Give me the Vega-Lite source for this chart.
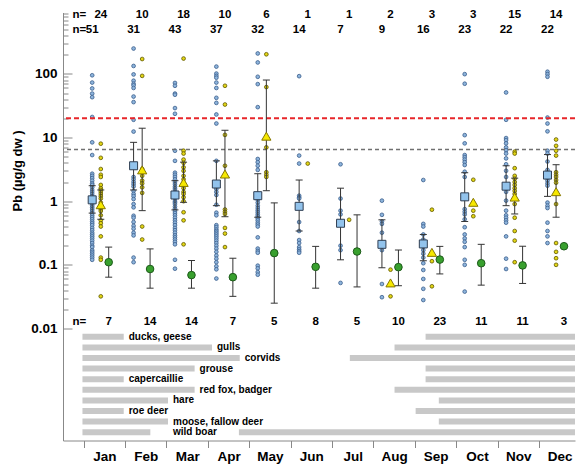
{
  "$schema": "https://vega.github.io/schema/vega-lite/v6.json",
  "padding": {"left": 11, "top": 5.5, "right": 0, "bottom": 0},
  "spacing": 0,
  "bounds": "flush",
  "config": {"view": {"stroke": null}, "font": "Liberation Sans", "axis": {"grid": false}},
  "datasets": {
    "blue": [
      {"month":1,"pb":95},{"month":1,"pb":73},{"month":1,"pb":59},{"month":1,"pb":49},{"month":1,"pb":43},{"month":1,"pb":21},{"month":1,"pb":8.4},{"month":1,"pb":5.3},{"month":1,"pb":2.7},{"month":1,"pb":2.5},{"month":1,"pb":2.3},{"month":1,"pb":2.1},{"month":1,"pb":1.9},{"month":1,"pb":1.8},{"month":1,"pb":1.65},{"month":1,"pb":1.5},{"month":1,"pb":1.4},{"month":1,"pb":1.3},{"month":1,"pb":1.2},{"month":1,"pb":1.1},{"month":1,"pb":1.05},{"month":1,"pb":1.0},{"month":1,"pb":0.95},{"month":1,"pb":0.9},{"month":1,"pb":0.85},{"month":1,"pb":0.8},{"month":1,"pb":0.75},{"month":1,"pb":0.7},{"month":1,"pb":0.65},{"month":1,"pb":0.6},{"month":1,"pb":0.56},{"month":1,"pb":0.52},{"month":1,"pb":0.48},{"month":1,"pb":0.45},{"month":1,"pb":0.42},{"month":1,"pb":0.38},{"month":1,"pb":0.35},{"month":1,"pb":0.32},{"month":1,"pb":0.3},{"month":1,"pb":0.28},{"month":1,"pb":0.26},{"month":1,"pb":0.24},{"month":1,"pb":0.22},{"month":1,"pb":0.2},{"month":1,"pb":0.19},{"month":1,"pb":0.17},{"month":1,"pb":0.16},{"month":1,"pb":0.15},{"month":1,"pb":0.14},{"month":1,"pb":0.13},{"month":1,"pb":0.12},
      {"month":2,"pb":250},{"month":2,"pb":133},{"month":2,"pb":98},{"month":2,"pb":78},{"month":2,"pb":70},{"month":2,"pb":66},{"month":2,"pb":60},{"month":2,"pb":44},{"month":2,"pb":36},{"month":2,"pb":19},{"month":2,"pb":12.4},{"month":2,"pb":2.4},{"month":2,"pb":2.2},{"month":2,"pb":2.0},{"month":2,"pb":1.85},{"month":2,"pb":1.7},{"month":2,"pb":1.45},{"month":2,"pb":1.3},{"month":2,"pb":1.2},{"month":2,"pb":1.08},{"month":2,"pb":0.9},{"month":2,"pb":0.8},{"month":2,"pb":0.59},{"month":2,"pb":0.55},{"month":2,"pb":0.47},{"month":2,"pb":0.41},{"month":2,"pb":0.37},{"month":2,"pb":0.32},{"month":2,"pb":0.29},{"month":2,"pb":0.13},{"month":2,"pb":0.11},
      {"month":3,"pb":72},{"month":3,"pb":65},{"month":3,"pb":49},{"month":3,"pb":47},{"month":3,"pb":29},{"month":3,"pb":23.6},{"month":3,"pb":6.2},{"month":3,"pb":4.3},{"month":3,"pb":2.8},{"month":3,"pb":2.6},{"month":3,"pb":2.4},{"month":3,"pb":2.2},{"month":3,"pb":2.0},{"month":3,"pb":1.85},{"month":3,"pb":1.7},{"month":3,"pb":1.6},{"month":3,"pb":1.5},{"month":3,"pb":1.4},{"month":3,"pb":1.3},{"month":3,"pb":1.2},{"month":3,"pb":1.1},{"month":3,"pb":1.0},{"month":3,"pb":0.95},{"month":3,"pb":0.9},{"month":3,"pb":0.82},{"month":3,"pb":0.76},{"month":3,"pb":0.7},{"month":3,"pb":0.65},{"month":3,"pb":0.6},{"month":3,"pb":0.55},{"month":3,"pb":0.5},{"month":3,"pb":0.46},{"month":3,"pb":0.42},{"month":3,"pb":0.38},{"month":3,"pb":0.35},{"month":3,"pb":0.32},{"month":3,"pb":0.29},{"month":3,"pb":0.27},{"month":3,"pb":0.25},{"month":3,"pb":0.23},{"month":3,"pb":0.21},{"month":3,"pb":0.12},{"month":3,"pb":0.087},
      {"month":4,"pb":130},{"month":4,"pb":101},{"month":4,"pb":93},{"month":4,"pb":87},{"month":4,"pb":73},{"month":4,"pb":60},{"month":4,"pb":42},{"month":4,"pb":35},{"month":4,"pb":23},{"month":4,"pb":16.6},{"month":4,"pb":4.3},{"month":4,"pb":1.7},{"month":4,"pb":1.55},{"month":4,"pb":1.4},{"month":4,"pb":1.25},{"month":4,"pb":0.88},{"month":4,"pb":0.66},{"month":4,"pb":0.6},{"month":4,"pb":0.42},{"month":4,"pb":0.39},{"month":4,"pb":0.36},{"month":4,"pb":0.34},{"month":4,"pb":0.32},{"month":4,"pb":0.3},{"month":4,"pb":0.28},{"month":4,"pb":0.26},{"month":4,"pb":0.24},{"month":4,"pb":0.22},{"month":4,"pb":0.2},{"month":4,"pb":0.18},{"month":4,"pb":0.16},{"month":4,"pb":0.14},{"month":4,"pb":0.125},{"month":4,"pb":0.11},{"month":4,"pb":0.095},{"month":4,"pb":0.085},{"month":4,"pb":0.061},
      {"month":5,"pb":209},{"month":5,"pb":151},{"month":5,"pb":90},{"month":5,"pb":69},{"month":5,"pb":30},{"month":5,"pb":4.6},{"month":5,"pb":4.1},{"month":5,"pb":3.6},{"month":5,"pb":3.1},{"month":5,"pb":1.3},{"month":5,"pb":1.15},{"month":5,"pb":1.05},{"month":5,"pb":0.95},{"month":5,"pb":0.85},{"month":5,"pb":0.78},{"month":5,"pb":0.72},{"month":5,"pb":0.67},{"month":5,"pb":0.62},{"month":5,"pb":0.58},{"month":5,"pb":0.54},{"month":5,"pb":0.5},{"month":5,"pb":0.46},{"month":5,"pb":0.43},{"month":5,"pb":0.4},{"month":5,"pb":0.27},{"month":5,"pb":0.18},{"month":5,"pb":0.165},{"month":5,"pb":0.155},{"month":5,"pb":0.097},{"month":5,"pb":0.088},{"month":5,"pb":0.077},{"month":5,"pb":0.07},
      {"month":6,"pb":92},{"month":6,"pb":5.2},{"month":6,"pb":3.9},{"month":6,"pb":1.22},{"month":6,"pb":1.15},{"month":6,"pb":1.1},{"month":6,"pb":0.47},{"month":6,"pb":0.34},{"month":6,"pb":0.245},{"month":6,"pb":0.22},{"month":6,"pb":0.19},{"month":6,"pb":0.175},{"month":6,"pb":0.164},{"month":6,"pb":0.155},
      {"month":7,"pb":3.8},{"month":7,"pb":1.1},{"month":7,"pb":0.71},{"month":7,"pb":0.62},{"month":7,"pb":0.2},{"month":7,"pb":0.17},{"month":7,"pb":0.052},
      {"month":8,"pb":1.02},{"month":8,"pb":0.61},{"month":8,"pb":0.48},{"month":8,"pb":0.44},{"month":8,"pb":0.32},{"month":8,"pb":0.22},{"month":8,"pb":0.17},{"month":8,"pb":0.05},{"month":8,"pb":0.031},
      {"month":9,"pb":2.15},{"month":9,"pb":0.44},{"month":9,"pb":0.4},{"month":9,"pb":0.3},{"month":9,"pb":0.25},{"month":9,"pb":0.22},{"month":9,"pb":0.2},{"month":9,"pb":0.19},{"month":9,"pb":0.17},{"month":9,"pb":0.15},{"month":9,"pb":0.13},{"month":9,"pb":0.106},{"month":9,"pb":0.083},{"month":9,"pb":0.06},{"month":9,"pb":0.042},{"month":9,"pb":0.028},
      {"month":10,"pb":99},{"month":10,"pb":70},{"month":10,"pb":10.9},{"month":10,"pb":8.1},{"month":10,"pb":5.3},{"month":10,"pb":4.9},{"month":10,"pb":4.5},{"month":10,"pb":4.1},{"month":10,"pb":3.7},{"month":10,"pb":2.9},{"month":10,"pb":2.4},{"month":10,"pb":0.75},{"month":10,"pb":0.68},{"month":10,"pb":0.62},{"month":10,"pb":0.52},{"month":10,"pb":0.39},{"month":10,"pb":0.3},{"month":10,"pb":0.26},{"month":10,"pb":0.23},{"month":10,"pb":0.19},{"month":10,"pb":0.12},{"month":10,"pb":0.1},{"month":10,"pb":0.038},
      {"month":11,"pb":51},{"month":11,"pb":19},{"month":11,"pb":9.8},{"month":11,"pb":9.1},{"month":11,"pb":8.1},{"month":11,"pb":7.0},{"month":11,"pb":6.3},{"month":11,"pb":5.6},{"month":11,"pb":4.7},{"month":11,"pb":3.8},{"month":11,"pb":3.0},{"month":11,"pb":2.4},{"month":11,"pb":1.4},{"month":11,"pb":1.02},{"month":11,"pb":0.71},{"month":11,"pb":0.6},{"month":11,"pb":0.55},{"month":11,"pb":0.5},{"month":11,"pb":0.46},{"month":11,"pb":0.28},{"month":11,"pb":0.125},{"month":11,"pb":0.086},
      {"month":12,"pb":108},{"month":12,"pb":99},{"month":12,"pb":90},{"month":12,"pb":20.6},{"month":12,"pb":16.6},{"month":12,"pb":12.5},{"month":12,"pb":6.2},{"month":12,"pb":5.6},{"month":12,"pb":4.2},{"month":12,"pb":3.1},{"month":12,"pb":2.6},{"month":12,"pb":2.3},{"month":12,"pb":2.1},{"month":12,"pb":1.9},{"month":12,"pb":1.75},{"month":12,"pb":0.95},{"month":12,"pb":0.85},{"month":12,"pb":0.78},{"month":12,"pb":0.46},{"month":12,"pb":0.34},{"month":12,"pb":0.28},{"month":12,"pb":0.22}
    ],
    "yellow": [
      {"month":1,"pb":8.0},{"month":1,"pb":4.8},{"month":1,"pb":3.2},{"month":1,"pb":2.6},{"month":1,"pb":2.4},{"month":1,"pb":1.8},{"month":1,"pb":1.6},{"month":1,"pb":1.5},{"month":1,"pb":1.4},{"month":1,"pb":1.3},{"month":1,"pb":1.2},{"month":1,"pb":1.1},{"month":1,"pb":0.95},{"month":1,"pb":0.85},{"month":1,"pb":0.75},{"month":1,"pb":0.7},{"month":1,"pb":0.6},{"month":1,"pb":0.5},{"month":1,"pb":0.45},{"month":1,"pb":0.4},{"month":1,"pb":0.28},{"month":1,"pb":0.13},{"month":1,"pb":0.12},{"month":1,"pb":0.032},
      {"month":2,"pb":171},{"month":2,"pb":93},{"month":2,"pb":3.2},{"month":2,"pb":2.5},{"month":2,"pb":2.1},{"month":2,"pb":1.9},{"month":2,"pb":1.65},{"month":2,"pb":1.35},{"month":2,"pb":0.4},{"month":2,"pb":0.25},
      {"month":3,"pb":174},{"month":3,"pb":6.2},{"month":3,"pb":5.6},{"month":3,"pb":4.5},{"month":3,"pb":4.0},{"month":3,"pb":3.4},{"month":3,"pb":3.0},{"month":3,"pb":2.5},{"month":3,"pb":2.2},{"month":3,"pb":1.9},{"month":3,"pb":1.6},{"month":3,"pb":1.4},{"month":3,"pb":1.3},{"month":3,"pb":1.15},{"month":3,"pb":1.0},{"month":3,"pb":0.67},{"month":3,"pb":0.5},{"month":3,"pb":0.21},
      {"month":4,"pb":65},{"month":4,"pb":33},{"month":4,"pb":11},{"month":4,"pb":3.6},{"month":4,"pb":0.74},{"month":4,"pb":0.68},{"month":4,"pb":0.63},{"month":4,"pb":0.38},{"month":4,"pb":0.31},{"month":4,"pb":0.19},
      {"month":5,"pb":203},{"month":5,"pb":62},{"month":5,"pb":7.0},{"month":5,"pb":2.85},{"month":5,"pb":2.6},{"month":5,"pb":2.4},
      {"month":6,"pb":3.9},
      {"month":7,"pb":0.51},
      {"month":8,"pb":0.084},{"month":8,"pb":0.032},
      {"month":9,"pb":0.735},{"month":9,"pb":0.114},{"month":9,"pb":0.046},
      {"month":10,"pb":2.17},{"month":10,"pb":0.71},{"month":10,"pb":0.58},
      {"month":11,"pb":6.0},{"month":11,"pb":5.6},{"month":11,"pb":3.3},{"month":11,"pb":2.5},{"month":11,"pb":2.25},{"month":11,"pb":2.0},{"month":11,"pb":1.8},{"month":11,"pb":1.6},{"month":11,"pb":1.45},{"month":11,"pb":1.3},{"month":11,"pb":0.9},{"month":11,"pb":0.55},{"month":11,"pb":0.34},{"month":11,"pb":0.24},{"month":11,"pb":0.11},
      {"month":12,"pb":9.3},{"month":12,"pb":7.4},{"month":12,"pb":6.2},{"month":12,"pb":5.2},{"month":12,"pb":2.85},{"month":12,"pb":2.6},{"month":12,"pb":2.4},{"month":12,"pb":2.15},{"month":12,"pb":1.95},{"month":12,"pb":0.9},{"month":12,"pb":0.22},{"month":12,"pb":0.16},{"month":12,"pb":0.127},{"month":12,"pb":0.1}
    ],
    "summary": [
      {"month":1,"series":"blue","mean":1.05,"lo":0.65,"hi":1.75},
      {"month":2,"series":"blue","mean":3.6,"lo":1.5,"hi":8.4},
      {"month":3,"series":"blue","mean":1.25,"lo":0.73,"hi":2.1},
      {"month":4,"series":"blue","mean":1.86,"lo":0.85,"hi":4.3},
      {"month":5,"series":"blue","mean":1.22,"lo":0.56,"hi":2.7},
      {"month":6,"series":"blue","mean":0.83,"lo":0.34,"hi":2.15},
      {"month":7,"series":"blue","mean":0.45,"lo":0.12,"hi":1.6},
      {"month":8,"series":"blue","mean":0.21,"lo":0.09,"hi":0.51},
      {"month":9,"series":"blue","mean":0.213,"lo":0.116,"hi":0.3},
      {"month":10,"series":"blue","mean":1.17,"lo":0.48,"hi":2.8},
      {"month":11,"series":"blue","mean":1.72,"lo":0.85,"hi":3.6},
      {"month":12,"series":"blue","mean":2.57,"lo":1.19,"hi":5.4},
      {"month":1,"series":"yellow","mean":0.88,"lo":0.52,"hi":1.5},
      {"month":2,"series":"yellow","mean":3.1,"lo":0.71,"hi":14},
      {"month":3,"series":"yellow","mean":1.97,"lo":0.96,"hi":4.1},
      {"month":4,"series":"yellow","mean":2.67,"lo":0.57,"hi":13},
      {"month":5,"series":"yellow","mean":10.5,"lo":1.46,"hi":80},
      {"month":8,"series":"yellow","mean":0.052,"lo":null,"hi":null},
      {"month":9,"series":"yellow","mean":0.157,"lo":null,"hi":null},
      {"month":10,"series":"yellow","mean":0.96,"lo":null,"hi":null},
      {"month":11,"series":"yellow","mean":1.16,"lo":0.63,"hi":2.3},
      {"month":12,"series":"yellow","mean":1.41,"lo":0.56,"hi":3.74},
      {"month":1,"series":"green","mean":0.11,"lo":0.064,"hi":0.19},
      {"month":2,"series":"green","mean":0.086,"lo":0.043,"hi":0.178},
      {"month":3,"series":"green","mean":0.069,"lo":0.043,"hi":0.117},
      {"month":4,"series":"green","mean":0.064,"lo":0.032,"hi":0.127},
      {"month":5,"series":"green","mean":0.153,"lo":0.025,"hi":0.94},
      {"month":6,"series":"green","mean":0.093,"lo":0.043,"hi":0.195},
      {"month":7,"series":"green","mean":0.162,"lo":0.045,"hi":0.61},
      {"month":8,"series":"green","mean":0.092,"lo":0.047,"hi":0.171},
      {"month":9,"series":"green","mean":0.121,"lo":0.072,"hi":0.195},
      {"month":10,"series":"green","mean":0.106,"lo":0.048,"hi":0.21},
      {"month":11,"series":"green","mean":0.098,"lo":0.051,"hi":0.196},
      {"month":12,"series":"green","mean":0.196,"lo":null,"hi":null}
    ],
    "counts": [
      {"month":1,"ny":24,"nb":51,"ng":7},{"month":2,"ny":10,"nb":31,"ng":14},{"month":3,"ny":18,"nb":43,"ng":14},{"month":4,"ny":10,"nb":37,"ng":7},{"month":5,"ny":6,"nb":32,"ng":5},{"month":6,"ny":1,"nb":14,"ng":8},{"month":7,"ny":1,"nb":7,"ng":5},{"month":8,"ny":2,"nb":9,"ng":10},{"month":9,"ny":3,"nb":16,"ng":23},{"month":10,"ny":3,"nb":23,"ng":11},{"month":11,"ny":15,"nb":22,"ng":11},{"month":12,"ny":14,"nb":22,"ng":3}
    ],
    "seasons": [
      {"animal":"ducks, geese","from":0.47,"to":1.467},{"animal":"ducks, geese","from":8.76,"to":12.5},
      {"animal":"gulls","from":0.47,"to":3.6},{"animal":"gulls","from":8.01,"to":12.5},
      {"animal":"corvids","from":0.47,"to":4.27},{"animal":"corvids","from":6.93,"to":12.5},
      {"animal":"grouse","from":0.47,"to":3.18},{"animal":"grouse","from":8.76,"to":12.5},
      {"animal":"capercaillie","from":0.47,"to":1.467},{"animal":"capercaillie","from":8.76,"to":12.5},
      {"animal":"red fox, badger","from":0.47,"to":3.18},{"animal":"red fox, badger","from":8.01,"to":12.5},
      {"animal":"hare","from":0.47,"to":2.537},{"animal":"hare","from":9.08,"to":12.5},
      {"animal":"roe deer","from":0.47,"to":1.467},{"animal":"roe deer","from":8.52,"to":12.5},
      {"animal":"moose, fallow deer","from":0.47,"to":2.537},{"animal":"moose, fallow deer","from":9.08,"to":12.5},
      {"animal":"wild boar","from":0.47,"to":2.11},{"animal":"wild boar","from":4.25,"to":12.5}
    ],
    "seasonLabels": [
      {"animal":"ducks, geese","at":1.467},{"animal":"gulls","at":3.6},{"animal":"corvids","at":4.27},{"animal":"grouse","at":3.18},{"animal":"capercaillie","at":1.467},{"animal":"red fox, badger","at":3.18},{"animal":"hare","at":2.537},{"animal":"roe deer","at":1.467},{"animal":"moose, fallow deer","at":2.537},{"animal":"wild boar","at":2.537}
    ]
  },
  "vconcat": [
    {
      "width": 512,
      "height": 316,
      "layer": [
        {
          "data": {"name": "blue"},
          "mark": {"type": "point", "shape": "circle", "filled": true, "size": 14, "fill": "#8db4dc", "stroke": "#3b5e8c", "strokeWidth": 0.8, "opacity": 1, "xOffset": -12.2},
          "encoding": {
            "x": {"field": "month", "type": "quantitative", "scale": {"domain": [0, 12.37], "nice": false, "zero": false}, "axis": null},
            "y": {"field": "pb", "type": "quantitative",
              "scale": {"type": "log", "domain": [0.01, 920], "nice": false},
              "axis": {
                "title": "Pb (µg/g dw )", "titleFontSize": 13, "titleFontWeight": "bold", "titleColor": "#000", "titlePadding": 6,
                "values": [0.01,0.02,0.03,0.04,0.05,0.06,0.07,0.08,0.09,0.1,0.2,0.3,0.4,0.5,0.6,0.7,0.8,0.9,1,2,3,4,5,6,7,8,9,10,20,30,40,50,60,70,80,90,100,200,300,400,500,600,700,800,900],
                "format": "~g",
                "labelExpr": "(datum.value == 0.01 || datum.value == 0.1 || datum.value == 1 || datum.value == 10 || datum.value == 100) ? datum.label : ''",
                "tickSize": {"condition": {"test": "datum.value == 0.01 || datum.value == 0.1 || datum.value == 1 || datum.value == 10 || datum.value == 100", "value": -9}, "value": -5},
                "labelPadding": 15,
                "labelFontSize": 13.5, "labelFontWeight": "bold", "labelColor": "#000",
                "labelOverlap": false, "labelFlush": false, "labelBound": false,
                "domainColor": "#888", "tickColor": "#888", "grid": false
              }
            }
          }
        },
        {
          "data": {"values": [{}]},
          "mark": {"type": "rule", "color": "#e8262a", "strokeWidth": 2, "strokeDash": [5, 3]},
          "encoding": {"y": {"datum": 20, "type": "quantitative"}}
        },
        {
          "data": {"values": [{}]},
          "mark": {"type": "rule", "color": "#707070", "strokeWidth": 1.6, "strokeDash": [4, 3]},
          "encoding": {"y": {"datum": 6.5, "type": "quantitative"}}
        },
        {
          "data": {"name": "yellow"},
          "mark": {"type": "point", "shape": "circle", "filled": true, "size": 14, "fill": "#e2d514", "stroke": "#5e5700", "strokeWidth": 0.8, "opacity": 1, "xOffset": -3.6},
          "encoding": {"x": {"field": "month", "type": "quantitative"}, "y": {"field": "pb", "type": "quantitative"}}
        },
        {
          "data": {"name": "summary"},
          "transform": [{"filter": "datum.series == 'blue'"}],
          "mark": {"type": "rule", "color": "#333", "strokeWidth": 1, "xOffset": -12.2},
          "encoding": {"x": {"field": "month", "type": "quantitative"}, "y": {"field": "lo", "type": "quantitative"}, "y2": {"field": "hi"}}
        },
        {
          "data": {"name": "summary"},
          "transform": [{"filter": "datum.series == 'blue'"}],
          "mark": {"type": "tick", "orient": "horizontal", "size": 7, "thickness": 1, "color": "#333", "opacity": 1, "xOffset": -12.2},
          "encoding": {"x": {"field": "month", "type": "quantitative"}, "y": {"field": "lo", "type": "quantitative"}}
        },
        {
          "data": {"name": "summary"},
          "transform": [{"filter": "datum.series == 'blue'"}],
          "mark": {"type": "tick", "orient": "horizontal", "size": 7, "thickness": 1, "color": "#333", "opacity": 1, "xOffset": -12.2},
          "encoding": {"x": {"field": "month", "type": "quantitative"}, "y": {"field": "hi", "type": "quantitative"}}
        },
        {
          "data": {"name": "summary"},
          "transform": [{"filter": "datum.series == 'blue'"}],
          "mark": {"type": "point", "shape": "square", "filled": true, "size": 64, "fill": "#92c3ec", "stroke": "#2f3e52", "strokeWidth": 1, "opacity": 1, "xOffset": -12.2},
          "encoding": {"x": {"field": "month", "type": "quantitative"}, "y": {"field": "mean", "type": "quantitative"}}
        },
        {
          "data": {"name": "summary"},
          "transform": [{"filter": "datum.series == 'yellow' && isValid(datum.lo)"}],
          "mark": {"type": "rule", "color": "#333", "strokeWidth": 1, "xOffset": -3.6},
          "encoding": {"x": {"field": "month", "type": "quantitative"}, "y": {"field": "lo", "type": "quantitative"}, "y2": {"field": "hi"}}
        },
        {
          "data": {"name": "summary"},
          "transform": [{"filter": "datum.series == 'yellow' && isValid(datum.lo)"}],
          "mark": {"type": "tick", "orient": "horizontal", "size": 7, "thickness": 1, "color": "#333", "opacity": 1, "xOffset": -3.6},
          "encoding": {"x": {"field": "month", "type": "quantitative"}, "y": {"field": "lo", "type": "quantitative"}}
        },
        {
          "data": {"name": "summary"},
          "transform": [{"filter": "datum.series == 'yellow' && isValid(datum.hi)"}],
          "mark": {"type": "tick", "orient": "horizontal", "size": 7, "thickness": 1, "color": "#333", "opacity": 1, "xOffset": -3.6},
          "encoding": {"x": {"field": "month", "type": "quantitative"}, "y": {"field": "hi", "type": "quantitative"}}
        },
        {
          "data": {"name": "summary"},
          "transform": [{"filter": "datum.series == 'yellow'"}],
          "mark": {"type": "point", "shape": "triangle-up", "filled": true, "size": 85, "fill": "#f6e800", "stroke": "#857600", "strokeWidth": 1, "opacity": 1, "xOffset": -3.6},
          "encoding": {"x": {"field": "month", "type": "quantitative"}, "y": {"field": "mean", "type": "quantitative"}}
        },
        {
          "data": {"name": "summary"},
          "transform": [{"filter": "datum.series == 'green' && isValid(datum.lo)"}],
          "mark": {"type": "rule", "color": "#333", "strokeWidth": 1, "xOffset": 4.3},
          "encoding": {"x": {"field": "month", "type": "quantitative"}, "y": {"field": "lo", "type": "quantitative"}, "y2": {"field": "hi"}}
        },
        {
          "data": {"name": "summary"},
          "transform": [{"filter": "datum.series == 'green' && isValid(datum.lo)"}],
          "mark": {"type": "tick", "orient": "horizontal", "size": 7, "thickness": 1, "color": "#333", "opacity": 1, "xOffset": 4.3},
          "encoding": {"x": {"field": "month", "type": "quantitative"}, "y": {"field": "lo", "type": "quantitative"}}
        },
        {
          "data": {"name": "summary"},
          "transform": [{"filter": "datum.series == 'green' && isValid(datum.hi)"}],
          "mark": {"type": "tick", "orient": "horizontal", "size": 7, "thickness": 1, "color": "#333", "opacity": 1, "xOffset": 4.3},
          "encoding": {"x": {"field": "month", "type": "quantitative"}, "y": {"field": "hi", "type": "quantitative"}}
        },
        {
          "data": {"name": "summary"},
          "transform": [{"filter": "datum.series == 'green'"}],
          "mark": {"type": "point", "shape": "circle", "filled": true, "size": 58, "fill": "#38a02e", "stroke": "#1d5a1a", "strokeWidth": 1, "opacity": 1, "xOffset": 4.3},
          "encoding": {"x": {"field": "month", "type": "quantitative"}, "y": {"field": "mean", "type": "quantitative"}}
        },
        {
          "data": {"name": "counts"},
          "mark": {"type": "text", "fontSize": 11.5, "fontWeight": "bold", "color": "#000", "align": "center", "baseline": "middle", "dx": -3.6},
          "encoding": {"x": {"field": "month", "type": "quantitative"}, "y": {"datum": 852, "type": "quantitative"}, "text": {"field": "ny"}}
        },
        {
          "data": {"name": "counts"},
          "mark": {"type": "text", "fontSize": 11.5, "fontWeight": "bold", "color": "#000", "align": "center", "baseline": "middle", "dx": -12.2},
          "encoding": {"x": {"field": "month", "type": "quantitative"}, "y": {"datum": 487, "type": "quantitative"}, "text": {"field": "nb"}}
        },
        {
          "data": {"name": "counts"},
          "mark": {"type": "text", "fontSize": 11.5, "fontWeight": "bold", "color": "#000", "align": "center", "baseline": "middle", "dx": 4.3},
          "encoding": {"x": {"field": "month", "type": "quantitative"}, "y": {"datum": 0.0128, "type": "quantitative"}, "text": {"field": "ng"}}
        },
        {
          "data": {"values": [{}]},
          "mark": {"type": "text", "text": "n=", "fontSize": 11.5, "fontWeight": "bold", "color": "#000", "align": "left", "baseline": "middle"},
          "encoding": {"x": {"datum": 0.23, "type": "quantitative"}, "y": {"datum": 852, "type": "quantitative"}}
        },
        {
          "data": {"values": [{}]},
          "mark": {"type": "text", "text": "n=", "fontSize": 11.5, "fontWeight": "bold", "color": "#000", "align": "left", "baseline": "middle"},
          "encoding": {"x": {"datum": 0.23, "type": "quantitative"}, "y": {"datum": 487, "type": "quantitative"}}
        },
        {
          "data": {"values": [{}]},
          "mark": {"type": "text", "text": "n=", "fontSize": 11.5, "fontWeight": "bold", "color": "#000", "align": "left", "baseline": "middle"},
          "encoding": {"x": {"datum": 0.23, "type": "quantitative"}, "y": {"datum": 0.0128, "type": "quantitative"}}
        }
      ]
    },
    {
      "width": 512,
      "height": 112,
      "layer": [
        {
          "data": {"name": "seasons"},
          "mark": {"type": "bar", "height": 6, "color": "#c8c8c8", "clip": true},
          "encoding": {
            "x": {"field": "from", "type": "quantitative", "scale": {"domain": [0, 12.37], "nice": false, "zero": false},
              "axis": {"values": [0.5,1.5,2.5,3.5,4.5,5.5,6.5,7.5,8.5,9.5,10.5,11.5],
                "labelExpr": "['Jan','Feb','Mar','Apr','May','Jun','Jul','Aug','Sep','Oct','Nov','Dec'][round(datum.value - 0.5)]",
                "labelOffset": 20.7, "tickSize": 7, "labelPadding": 2, "labelFontSize": 13.5, "labelFontWeight": "bold", "labelColor": "#000",
                "domainColor": "#888", "tickColor": "#888", "title": null, "labelFlush": false, "labelOverlap": false, "labelBound": false, "grid": false}},
            "x2": {"field": "to"},
            "y": {"field": "animal", "type": "nominal",
              "sort": ["ducks, geese", "gulls", "corvids", "grouse", "capercaillie", "red fox, badger", "hare", "roe deer", "moose, fallow deer", "wild boar"],
              "scale": {"paddingOuter": 0.28, "paddingInner": 0},
              "axis": {"title": null, "labels": false, "ticks": false, "domainColor": "#888", "grid": false}}
          }
        },
        {
          "data": {"name": "seasonLabels"},
          "mark": {"type": "text", "align": "left", "baseline": "middle", "dx": 5, "fontSize": 10, "fontWeight": "bold", "color": "#000"},
          "encoding": {
            "x": {"field": "at", "type": "quantitative"},
            "y": {"field": "animal", "type": "nominal", "sort": ["ducks, geese", "gulls", "corvids", "grouse", "capercaillie", "red fox, badger", "hare", "roe deer", "moose, fallow deer", "wild boar"]},
            "text": {"field": "animal"}
          }
        }
      ]
    }
  ]
}
